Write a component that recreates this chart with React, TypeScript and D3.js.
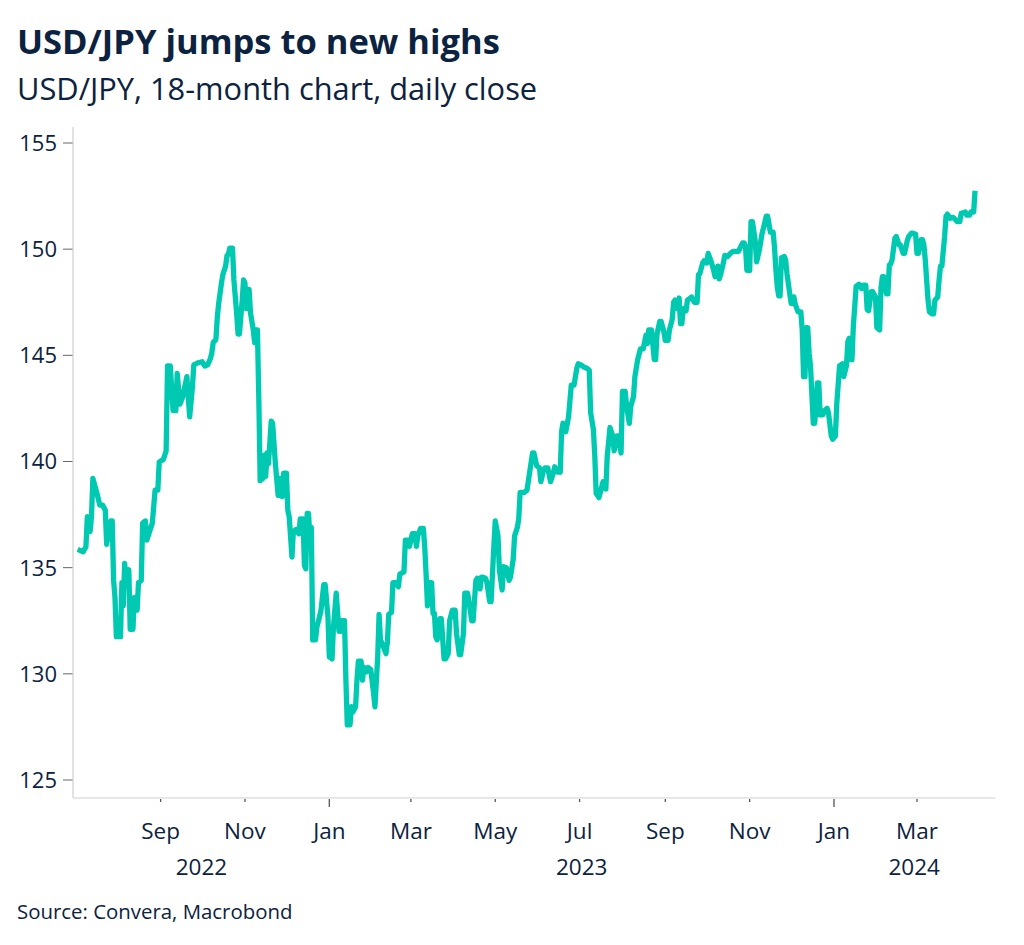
import React from 'react';
import * as d3 from 'd3';

const title = 'USD/JPY jumps to new highs';
const subtitle = 'USD/JPY, 18-month chart, daily close';
const source = 'Source: Convera, Macrobond';

const yTicks = [125, 130, 135, 140, 145, 150, 155];
const xTickDates = ['2022-09-01', '2022-11-01', '2023-01-01', '2023-03-01', '2023-05-01', '2023-07-01', '2023-09-01', '2023-11-01', '2024-01-01', '2024-03-01'];
const xTickLabels = ['Sep', 'Nov', 'Jan', 'Mar', 'May', 'Jul', 'Sep', 'Nov', 'Jan', 'Mar'];
const yearLabels = ['2022', '2023', '2024'];
const xDomain = ['2022-06-30', '2024-04-26'];

const closes2022: [string, number][] = [
  ['2022-07-03', 135.86], ['2022-07-07', 135.75], ['2022-07-09', 135.99], ['2022-07-10', 137.4], ['2022-07-12', 136.7],
  ['2022-07-13', 137.4], ['2022-07-14', 139.2], ['2022-07-17', 138.5], ['2022-07-19', 137.95], ['2022-07-21', 137.95],
  ['2022-07-23', 137.7], ['2022-07-24', 136.1], ['2022-07-25', 136.5], ['2022-07-27', 137.2], ['2022-07-28', 137.2],
  ['2022-07-29', 134.4], ['2022-07-30', 133.6], ['2022-07-31', 131.75], ['2022-08-03', 131.75], ['2022-08-04', 134.3],
  ['2022-08-05', 133.2], ['2022-08-06', 135.2], ['2022-08-07', 134.3], ['2022-08-09', 134.9], ['2022-08-10', 132.1],
  ['2022-08-12', 132.1], ['2022-08-13', 133.6], ['2022-08-15', 133.0], ['2022-08-16', 134.3], ['2022-08-18', 134.4],
  ['2022-08-19', 137.1], ['2022-08-21', 137.2], ['2022-08-22', 136.3], ['2022-08-24', 136.7], ['2022-08-26', 137.1],
  ['2022-08-28', 138.65], ['2022-08-30', 138.65], ['2022-08-31', 139.98], ['2022-09-03', 140.1], ['2022-09-05', 140.5],
  ['2022-09-06', 144.5], ['2022-09-08', 144.5], ['2022-09-10', 142.4], ['2022-09-12', 142.4], ['2022-09-13', 144.15],
  ['2022-09-15', 142.7], ['2022-09-17', 143.05], ['2022-09-20', 144.0], ['2022-09-22', 142.1], ['2022-09-24', 143.5],
  ['2022-09-25', 144.55], ['2022-09-28', 144.65], ['2022-10-01', 144.7], ['2022-10-03', 144.5], ['2022-10-05', 144.55],
  ['2022-10-07', 144.85], ['2022-10-08', 145.1], ['2022-10-09', 145.6], ['2022-10-11', 145.75], ['2022-10-12', 146.8],
  ['2022-10-13', 147.45], ['2022-10-15', 148.4], ['2022-10-16', 148.8], ['2022-10-18', 149.2], ['2022-10-19', 149.7],
  ['2022-10-20', 149.75], ['2022-10-21', 150.05], ['2022-10-23', 150.05], ['2022-10-24', 148.55], ['2022-10-26', 146.98],
  ['2022-10-27', 146.0], ['2022-10-28', 146.0], ['2022-10-30', 147.6], ['2022-10-31', 148.55], ['2022-11-01', 148.4],
  ['2022-11-02', 147.2], ['2022-11-03', 147.2], ['2022-11-04', 148.1], ['2022-11-05', 147.0], ['2022-11-07', 146.2],
  ['2022-11-08', 145.6], ['2022-11-09', 146.2], ['2022-11-10', 146.2], ['2022-11-11', 143.05], ['2022-11-12', 139.1],
  ['2022-11-14', 139.2], ['2022-11-15', 140.3], ['2022-11-16', 139.3], ['2022-11-17', 140.4], ['2022-11-18', 139.9],
  ['2022-11-20', 141.9], ['2022-11-21', 141.8], ['2022-11-23', 139.9], ['2022-11-25', 138.4], ['2022-11-26', 139.2],
  ['2022-11-28', 138.35], ['2022-11-29', 139.45], ['2022-12-01', 139.45], ['2022-12-02', 137.7], ['2022-12-03', 137.4],
  ['2022-12-05', 135.5], ['2022-12-06', 136.7], ['2022-12-08', 136.8], ['2022-12-10', 136.6], ['2022-12-11', 137.3],
  ['2022-12-13', 137.3], ['2022-12-14', 135.1], ['2022-12-15', 134.95], ['2022-12-16', 137.55], ['2022-12-17', 137.55],
  ['2022-12-18', 136.3], ['2022-12-19', 136.9], ['2022-12-20', 131.6], ['2022-12-22', 131.6], ['2022-12-23', 132.2],
  ['2022-12-25', 132.7], ['2022-12-26', 133.0], ['2022-12-28', 134.2], ['2022-12-29', 134.2], ['2022-12-31', 132.7],
];

const closes2023: [string, number][] = [
  ['2023-01-01', 130.8], ['2023-01-03', 130.7], ['2023-01-04', 132.2], ['2023-01-06', 133.8], ['2023-01-08', 132.0],
  ['2023-01-09', 132.0], ['2023-01-10', 132.5], ['2023-01-12', 132.5], ['2023-01-13', 129.7], ['2023-01-14', 127.6],
  ['2023-01-16', 127.6], ['2023-01-17', 128.45], ['2023-01-18', 128.2], ['2023-01-20', 128.45], ['2023-01-21', 129.7],
  ['2023-01-22', 130.6], ['2023-01-24', 130.6], ['2023-01-25', 129.7], ['2023-01-26', 130.3], ['2023-01-28', 130.1],
  ['2023-01-29', 130.3], ['2023-01-31', 130.2], ['2023-02-02', 129.1], ['2023-02-03', 128.45], ['2023-02-05', 130.8],
  ['2023-02-06', 132.8], ['2023-02-07', 131.6], ['2023-02-09', 131.3], ['2023-02-11', 130.95], ['2023-02-12', 131.5],
  ['2023-02-13', 132.8], ['2023-02-15', 132.9], ['2023-02-16', 134.3], ['2023-02-18', 134.3], ['2023-02-20', 134.1],
  ['2023-02-21', 134.7], ['2023-02-24', 134.8], ['2023-02-25', 136.3], ['2023-02-27', 136.3], ['2023-02-28', 136.0],
  ['2023-03-02', 136.6], ['2023-03-04', 136.6], ['2023-03-05', 136.0], ['2023-03-06', 136.5], ['2023-03-08', 136.85],
  ['2023-03-10', 136.85], ['2023-03-11', 136.0], ['2023-03-12', 134.7], ['2023-03-13', 133.2], ['2023-03-14', 134.3],
  ['2023-03-16', 134.3], ['2023-03-17', 132.85], ['2023-03-18', 132.85], ['2023-03-19', 131.75], ['2023-03-20', 131.6],
  ['2023-03-22', 132.6], ['2023-03-23', 132.6], ['2023-03-25', 130.7], ['2023-03-26', 130.7], ['2023-03-28', 130.95],
  ['2023-03-29', 132.5], ['2023-03-31', 133.0], ['2023-04-02', 133.0], ['2023-04-03', 131.9], ['2023-04-05', 130.9],
  ['2023-04-06', 130.9], ['2023-04-08', 131.9], ['2023-04-09', 133.8], ['2023-04-11', 133.8], ['2023-04-12', 133.4],
  ['2023-04-14', 132.5], ['2023-04-15', 132.5], ['2023-04-17', 134.4], ['2023-04-18', 134.5], ['2023-04-20', 134.0],
  ['2023-04-21', 134.55], ['2023-04-22', 134.55], ['2023-04-24', 134.5], ['2023-04-25', 134.3], ['2023-04-27', 133.4],
  ['2023-04-28', 133.4], ['2023-04-30', 136.0], ['2023-05-01', 137.2], ['2023-05-03', 136.5], ['2023-05-04', 134.9],
  ['2023-05-06', 133.95], ['2023-05-07', 135.05], ['2023-05-09', 135.0], ['2023-05-11', 134.4], ['2023-05-12', 134.55],
  ['2023-05-14', 135.4], ['2023-05-15', 136.5], ['2023-05-17', 136.9], ['2023-05-18', 137.3], ['2023-05-19', 138.55],
  ['2023-05-22', 138.55], ['2023-05-24', 138.65], ['2023-05-25', 139.1], ['2023-05-28', 140.4], ['2023-05-29', 140.4],
  ['2023-05-31', 139.8], ['2023-06-02', 139.7], ['2023-06-03', 139.05], ['2023-06-05', 139.6], ['2023-06-06', 139.7],
  ['2023-06-08', 139.7], ['2023-06-10', 139.05], ['2023-06-12', 139.45], ['2023-06-13', 139.75], ['2023-06-15', 139.5],
  ['2023-06-17', 139.5], ['2023-06-18', 141.4], ['2023-06-19', 141.8], ['2023-06-21', 141.4], ['2023-06-23', 142.1],
  ['2023-06-25', 143.6], ['2023-06-27', 143.6], ['2023-06-29', 144.4], ['2023-06-30', 144.6], ['2023-07-02', 144.55],
  ['2023-07-04', 144.45], ['2023-07-06', 144.4], ['2023-07-08', 144.3], ['2023-07-09', 142.3], ['2023-07-11', 141.5],
  ['2023-07-12', 140.25], ['2023-07-13', 138.5], ['2023-07-15', 138.3], ['2023-07-17', 138.8], ['2023-07-18', 139.05],
  ['2023-07-20', 138.7], ['2023-07-21', 140.25], ['2023-07-23', 141.6], ['2023-07-25', 141.2], ['2023-07-26', 140.5],
  ['2023-07-28', 141.2], ['2023-07-29', 141.2], ['2023-07-31', 140.4], ['2023-08-01', 143.3], ['2023-08-03', 143.3],
  ['2023-08-04', 142.6], ['2023-08-06', 141.8], ['2023-08-07', 142.6], ['2023-08-09', 143.05], ['2023-08-10', 144.0],
  ['2023-08-12', 144.8], ['2023-08-14', 145.3], ['2023-08-16', 145.3], ['2023-08-18', 145.95], ['2023-08-19', 145.55],
  ['2023-08-20', 146.2], ['2023-08-22', 146.2], ['2023-08-24', 144.8], ['2023-08-25', 144.8], ['2023-08-26', 146.0],
  ['2023-08-28', 146.6], ['2023-08-29', 146.6], ['2023-08-31', 146.1], ['2023-09-01', 145.7], ['2023-09-03', 145.7],
  ['2023-09-04', 146.2], ['2023-09-06', 146.7], ['2023-09-07', 147.5], ['2023-09-08', 147.6], ['2023-09-10', 147.2],
  ['2023-09-11', 147.7], ['2023-09-12', 146.5], ['2023-09-13', 146.5], ['2023-09-14', 147.2], ['2023-09-16', 147.1],
  ['2023-09-17', 147.6], ['2023-09-19', 147.7], ['2023-09-20', 147.75], ['2023-09-22', 147.5], ['2023-09-24', 147.5],
  ['2023-09-25', 148.8], ['2023-09-26', 148.85], ['2023-09-28', 149.35], ['2023-09-29', 149.45], ['2023-10-01', 149.35],
  ['2023-10-02', 149.8], ['2023-10-04', 149.45], ['2023-10-06', 149.0], ['2023-10-07', 148.7], ['2023-10-09', 149.2],
  ['2023-10-10', 148.6], ['2023-10-11', 148.8], ['2023-10-13', 149.35], ['2023-10-14', 149.7], ['2023-10-16', 149.65],
  ['2023-10-18', 149.8], ['2023-10-20', 149.9], ['2023-10-22', 149.9], ['2023-10-24', 149.9], ['2023-10-25', 150.05],
  ['2023-10-27', 150.3], ['2023-10-28', 150.3], ['2023-10-29', 150.1], ['2023-10-30', 149.0], ['2023-11-01', 149.0],
  ['2023-11-02', 151.3], ['2023-11-03', 151.3], ['2023-11-05', 150.4], ['2023-11-06', 149.4], ['2023-11-08', 149.96],
  ['2023-11-10', 150.75], ['2023-11-11', 151.0], ['2023-11-13', 151.55], ['2023-11-14', 151.55], ['2023-11-16', 150.8],
  ['2023-11-18', 150.8], ['2023-11-19', 150.05], ['2023-11-20', 149.0], ['2023-11-21', 148.2], ['2023-11-22', 147.8],
  ['2023-11-23', 147.8], ['2023-11-24', 149.6], ['2023-11-26', 149.65], ['2023-11-27', 149.5], ['2023-11-28', 148.85],
  ['2023-11-30', 147.9], ['2023-12-01', 147.45], ['2023-12-02', 147.45], ['2023-12-03', 147.75], ['2023-12-04', 147.4],
  ['2023-12-06', 147.05], ['2023-12-08', 147.05], ['2023-12-09', 146.2], ['2023-12-10', 144.0], ['2023-12-11', 144.0],
  ['2023-12-12', 146.3], ['2023-12-13', 146.3], ['2023-12-14', 145.1], ['2023-12-15', 144.5], ['2023-12-17', 141.8],
  ['2023-12-18', 141.8], ['2023-12-19', 142.6], ['2023-12-20', 143.7], ['2023-12-21', 143.7], ['2023-12-22', 142.2],
  ['2023-12-24', 142.2], ['2023-12-25', 142.4], ['2023-12-27', 142.5], ['2023-12-28', 142.3], ['2023-12-30', 141.2],
  ['2023-12-31', 141.05],
];

const closes2024: [string, number][] = [
  ['2024-01-02', 141.2], ['2024-01-03', 142.7], ['2024-01-05', 144.5], ['2024-01-07', 144.6], ['2024-01-08', 144.0],
  ['2024-01-10', 144.5], ['2024-01-11', 145.65], ['2024-01-12', 145.8], ['2024-01-13', 144.8], ['2024-01-14', 144.8],
  ['2024-01-15', 146.4], ['2024-01-16', 147.3], ['2024-01-17', 148.25], ['2024-01-19', 148.35], ['2024-01-21', 148.15],
  ['2024-01-22', 148.3], ['2024-01-24', 148.3], ['2024-01-25', 147.15], ['2024-01-26', 147.1], ['2024-01-28', 148.0],
  ['2024-01-29', 148.0], ['2024-01-31', 147.75], ['2024-02-01', 146.3], ['2024-02-03', 146.2], ['2024-02-04', 148.2],
  ['2024-02-05', 148.7], ['2024-02-06', 148.7], ['2024-02-08', 147.9], ['2024-02-09', 147.9], ['2024-02-10', 149.25],
  ['2024-02-11', 149.3], ['2024-02-12', 149.5], ['2024-02-14', 150.5], ['2024-02-15', 150.6], ['2024-02-17', 150.2],
  ['2024-02-18', 150.2], ['2024-02-20', 149.8], ['2024-02-21', 149.8], ['2024-02-23', 150.4], ['2024-02-24', 150.6],
  ['2024-02-26', 150.75], ['2024-02-27', 150.75], ['2024-02-29', 150.7], ['2024-03-01', 149.8], ['2024-03-02', 149.8],
  ['2024-03-04', 150.45], ['2024-03-05', 150.45], ['2024-03-06', 150.2], ['2024-03-07', 149.5], ['2024-03-08', 148.55],
  ['2024-03-09', 147.6], ['2024-03-10', 147.05], ['2024-03-12', 146.95], ['2024-03-13', 146.95], ['2024-03-14', 147.6],
  ['2024-03-16', 147.75], ['2024-03-17', 148.55], ['2024-03-18', 149.2], ['2024-03-19', 149.2], ['2024-03-21', 150.6],
  ['2024-03-22', 151.55], ['2024-03-23', 151.65], ['2024-03-25', 151.45], ['2024-03-27', 151.5], ['2024-03-28', 151.45],
  ['2024-03-30', 151.3], ['2024-04-01', 151.3], ['2024-04-02', 151.7], ['2024-04-03', 151.7], ['2024-04-05', 151.75],
  ['2024-04-06', 151.6], ['2024-04-08', 151.6], ['2024-04-09', 151.75], ['2024-04-11', 151.75], ['2024-04-12', 152.75],
];

const NAVY = '#0b2240';
const TEAL = '#00c9b1';
const FONT = "'Open Sans', 'Noto Sans', sans-serif";

export default function App() {
  const parse = d3.utcParse('%Y-%m-%d');
  const W = 1024, H = 945;
  const left = 73.5, right = 994.4, top = 143, bottom = 780, axisY = 798;

  const x = d3.scaleUtc().domain(xDomain.map((d) => parse(d) as Date)).range([left, right]);
  const y = d3.scaleLinear().domain([125, 155]).range([bottom, top]);

  const series = [...closes2022, ...closes2023, ...closes2024].map(([d, v]) => ({ date: parse(d) as Date, value: v }));
  const line = d3.line<{ date: Date; value: number }>().x((d) => x(d.date)).y((d) => y(d.value));

  const [d0, d1] = x.domain();
  const yearSpans = yearLabels.map((yr) => {
    const s = parse(`${yr}-01-01`) as Date;
    const e = parse(`${+yr + 1}-01-01`) as Date;
    const a = s < d0 ? d0 : s;
    const b = e > d1 ? d1 : e;
    return { yr, cx: (x(a) + x(b)) / 2 };
  });

  return (
    <svg width={W} height={H} style={{ position: 'absolute', left: 0, top: 0, background: '#fff' }} fontFamily={FONT}>
      <rect x={0} y={0} width={W} height={H} fill="#fff" />
      <text x={17} y={54} fontSize={34.5} fontWeight={700} fill={NAVY}>{title}</text>
      <text x={17} y={100} fontSize={30.8} fill={NAVY}>{subtitle}</text>

      {/* y axis */}
      <line x1={left - 0.5} x2={left - 0.5} y1={127} y2={axisY} stroke="#cfcfcf" strokeWidth={1.2} />
      {yTicks.map((t) => (
        <g key={t}>
          <line x1={63} x2={left - 1} y1={y(t)} y2={y(t)} stroke="#666" strokeWidth={1} />
          <text x={57} y={y(t)} dy="0.36em" textAnchor="end" fontSize={22} fill={NAVY}>{t}</text>
        </g>
      ))}

      {/* x axis */}
      <line x1={left - 0.5} x2={right + 1} y1={axisY} y2={axisY} stroke="#cfcfcf" strokeWidth={1.2} />
      {xTickDates.map((d, i) => {
        const dt = parse(d) as Date;
        const isJan = dt.getUTCMonth() === 0;
        const px = x(dt);
        return (
          <g key={d}>
            <line x1={px} x2={px} y1={axisY + 1} y2={axisY + (isJan ? 9 : 4)} stroke="#555" strokeWidth={1.3} />
            <text x={px} y={839} textAnchor="middle" fontSize={22.5} fill={NAVY}>{xTickLabels[i]}</text>
          </g>
        );
      })}
      {yearSpans.map((s) => (
        <text key={s.yr} x={s.cx} y={875} textAnchor="middle" fontSize={22.5} fill={NAVY}>{s.yr}</text>
      ))}

      <path d={line(series) || ''} fill="none" stroke={TEAL} strokeWidth={5.3} strokeLinejoin="round" strokeLinecap="butt" />

      <text x={17} y={919} fontSize={20.4} fill={NAVY}>{source}</text>
    </svg>
  );
}
